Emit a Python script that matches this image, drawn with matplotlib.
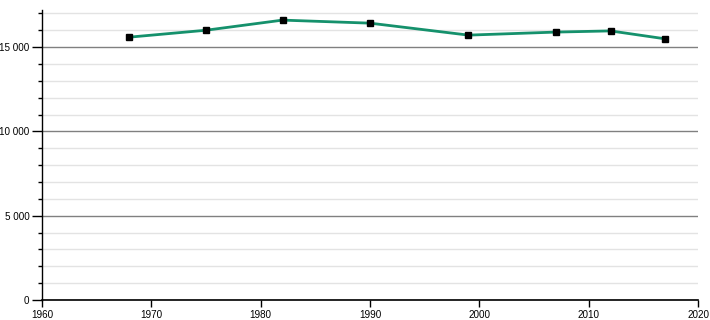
import matplotlib
matplotlib.use('Agg')
import matplotlib.pyplot as plt
from matplotlib.ticker import MultipleLocator, FuncFormatter

years = [1968, 1975, 1982, 1990, 1999, 2007, 2012, 2017]
population = [15590, 16000, 16600, 16420, 15710, 15890, 15960, 15490]

plt.rcParams['font.family'] = ['Liberation Sans', 'DejaVu Sans']

fig = plt.figure(figsize=(7.1, 3.2), dpi=100)
ax = fig.add_axes([42 / 710, 20 / 320, 656 / 710, 290 / 320])

ax.set_xlim(1960, 2020)
ax.set_ylim(0, 17200)

ax.yaxis.set_major_locator(MultipleLocator(5000))
ax.yaxis.set_minor_locator(MultipleLocator(1000))
ax.xaxis.set_major_locator(MultipleLocator(10))
ax.yaxis.set_major_formatter(FuncFormatter(lambda v, p: f'{int(v):,}'.replace(',', ' ')))

ax.grid(which='minor', axis='y', color='#e3e3e3', linewidth=1)
ax.grid(which='major', axis='y', color='#808080', linewidth=1)
ax.set_axisbelow(True)

ax.plot(years, population, color='#15916c', linewidth=2, zorder=3)
ax.plot(years, population, 's', color='black', markersize=4, zorder=4)

for s in ['top', 'right']:
    ax.spines[s].set_visible(False)
ax.spines['left'].set_linewidth(1)
ax.spines['bottom'].set_linewidth(1.2)

ax.tick_params(axis='y', which='major', direction='out', length=7, width=1,
               labelsize=7.1, colors='black', pad=2)
ax.tick_params(axis='x', which='major', direction='out', length=5, width=1,
               labelsize=7.1, colors='black', pad=2)
ax.tick_params(axis='y', which='minor', direction='out', length=3, width=1)

fig.savefig('out.png', dpi=100)
